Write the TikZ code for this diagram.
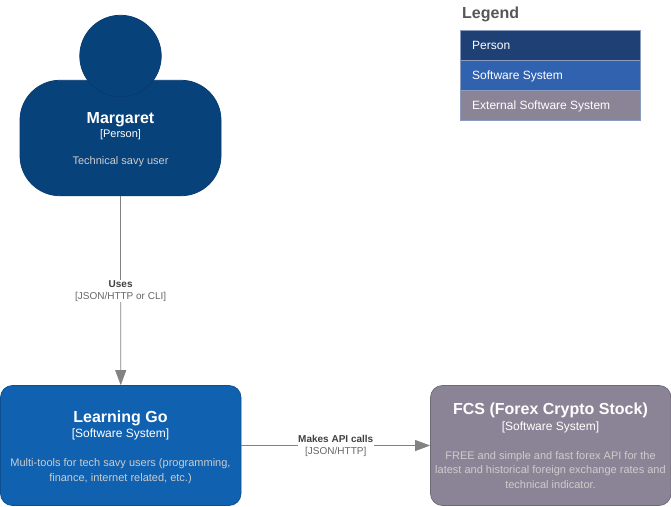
\documentclass[tikz,border=0pt]{standalone}
\usepackage{fontspec}
\setmainfont{Liberation Sans}
\usetikzlibrary{arrows.meta}
\definecolor{personc}{HTML}{08427B}
\definecolor{personl}{HTML}{073B6F}
\definecolor{sysc}{HTML}{1061B0}
\definecolor{sysl}{HTML}{0D5091}
\definecolor{extc}{HTML}{8B8496}
\definecolor{extl}{HTML}{6F6A78}
\definecolor{lgperson}{HTML}{1E4074}
\definecolor{lgsys}{HTML}{3162AF}
\definecolor{lgext}{HTML}{8B8496}
\definecolor{lgline}{HTML}{8A9BBD}
\definecolor{descc}{HTML}{CCCCCC}
\definecolor{linkc}{HTML}{828282}
\definecolor{labelc}{HTML}{404040}
\definecolor{labelb}{HTML}{666666}
\tikzset{
  x=1pt,y=-1pt,
  txt/.style={anchor=base,inner sep=0pt,align=center},
  titlet/.style={txt,text=white,font=\fontsize{16}{18}\selectfont\bfseries},
  typet/.style={txt,text=white,font=\fontsize{11}{13}\selectfont},
  systypet/.style={txt,text=white,font=\fontsize{12}{14}\selectfont},
  desct/.style={txt,text=descc,font=\fontsize{11}{13}\selectfont},
  sysbox/.style={draw,rounded corners=12pt,minimum width=240.5pt,minimum height=120pt,inner sep=0pt,line width=0.75pt},
  legbox/.style={draw=lgline,minimum width=180pt,minimum height=30pt,inner sep=0pt,line width=0.75pt},
  legt/.style={anchor=base west,inner sep=0pt,text=white,font=\fontsize{12}{14}\selectfont},
  rel/.style={draw=linkc,line width=0.75pt,-{Triangle[length=15pt,width=11pt,fill=linkc]}},
  rellab/.style={fill=white,inner sep=0.5pt,align=center,text=labelb,yshift=-0.8pt,font=\fontsize{10}{12}\selectfont},
}
\begin{document}
\begin{tikzpicture}
\useasboundingbox (0,0) rectangle (671,506);
\fill[white] (0,0) rectangle (671,506);
% person
\node[draw=personl,fill=personc,rounded corners=40pt,minimum width=201pt,minimum height=115.5pt,inner sep=0pt,line width=0.75pt] (body) at (120.5,138) {};
\node[circle,draw=personl,fill=personc,minimum size=81.5pt,inner sep=0pt,line width=0.75pt] (head) at (120.5,56) {};
\node[titlet] (mname) at (120.5,123) {Margaret};
\node[typet] (mtype) at (120.5,137) {[Person]};
\node[desct] (mdesc) at (120.5,164) {Technical savy user};
% Learning Go
\node[sysbox,draw=sysl,fill=sysc] (lg) at (120.75,445.5) {};
\node[titlet] (lgname) at (120.5,422.5) {Learning Go};
\node[systypet] (lgtype) at (120.5,437) {[Software System]};
\node[desct] (lgd1) at (120.5,466) {Multi-tools for tech savy users (programming,};
\node[desct] (lgd2) at (120.5,481) {finance, internet related, etc.)};
% FCS
\node[sysbox,draw=extl,fill=extc] (fcs) at (550.75,445.5) {};
\node[titlet] (fname) at (550.5,414.5) {FCS (Forex Crypto Stock)};
\node[systypet] (ftype) at (550.5,430) {[Software System]};
\node[desct] (fd1) at (550.5,459) {FREE and simple and fast forex API for the};
\node[desct] (fd2) at (550.5,473.5) {latest and historical foreign exchange rates and};
\node[desct] (fd3) at (550.5,488) {technical indicator.};
% connectors
\draw[rel] (body.south) -- (lg.north) node[rellab,pos=0.5] (uses) {\textcolor{labelc}{\bfseries Uses}\\{}[JSON/HTTP or CLI]};
\draw[rel] (lg.east) -- (fcs.west) node[rellab,pos=0.5] (api) {\textcolor{labelc}{\bfseries Makes API calls}\\{}[JSON/HTTP]};
% legend
\node[anchor=base west,inner sep=0pt,text=labelb!85!black,font=\fontsize{16}{18}\selectfont\bfseries] (legtitle) at (462,18) {Legend};
\node[legbox,fill=lgperson] (lp) at (550.5,45) {};
\node[legbox,fill=lgsys] (ls) at (550.5,75) {};
\node[legbox,fill=lgext] (le) at (550.5,105) {};
\node[legt] (lpt) at (472,49) {Person};
\node[legt] (lst) at (472,79) {Software System};
\node[legt] (let) at (472,109) {External Software System};
\end{tikzpicture}
\end{document}
